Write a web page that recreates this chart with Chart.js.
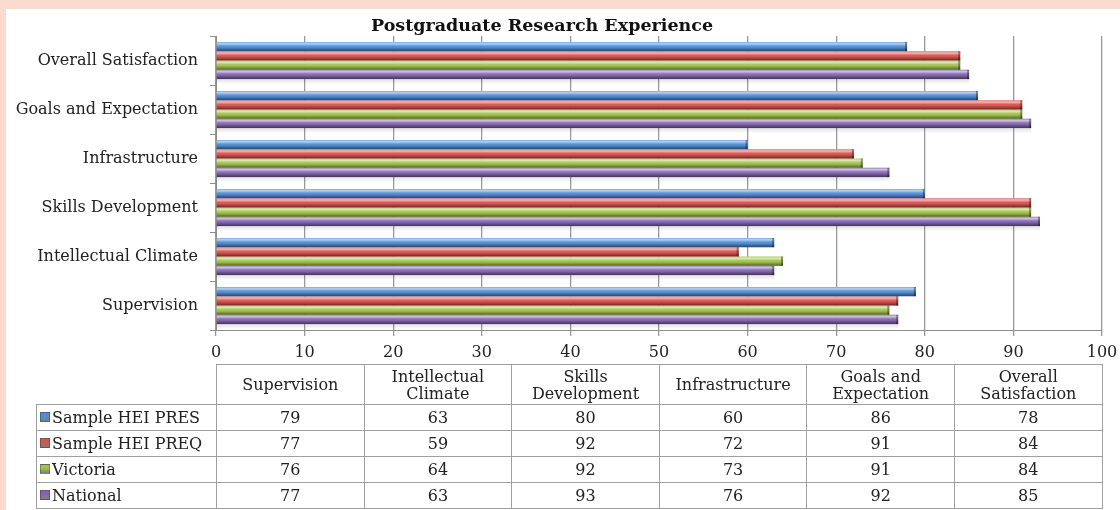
<!DOCTYPE html>
<html>
<head>
<meta charset="utf-8">
<script src="https://cdn.jsdelivr.net/npm/chart.js@4/dist/chart.umd.min.js"></script>
<style>
  html, body { margin: 0; padding: 0; background: #fbdbd0; overflow: hidden; }
  #panel { position: absolute; left: 6px; top: 9px; width: 1114px; height: 501px; background: #fff; overflow: hidden; }
  #pgChart { position: absolute; left: 0; top: 0; }
  #dataTable { position: absolute; left: 30px; top: 355px; border-collapse: collapse; table-layout: fixed;
    font-family: 'DejaVu Serif', serif; font-size: 16px; color: #222; }
  #dataTable th, #dataTable td { border: 1px solid #a0a0a0; text-align: center; font-weight: normal; padding: 0 6px; }
  #dataTable th { height: 39px; line-height: 17px; }
  #dataTable td { height: 25px; line-height: 17px; }
  #dataTable th.blank { border-top: none; border-left: none; }
  #dataTable td.name { text-align: left; padding: 0 0 0 3px; white-space: nowrap; }
  .key { display: inline-block; width: 8px; height: 8px; margin-right: 2px; vertical-align: 1px; border: 1px solid rgba(0,0,0,0.25); }
</style>
</head>
<body>
<div id="panel">
  <canvas id="pgChart" width="1114" height="360"></canvas>
  <table id="dataTable"></table>
</div>
<script>
const chartTitle = 'Postgraduate Research Experience';
const categories = ['Supervision', 'Intellectual Climate', 'Skills Development', 'Infrastructure', 'Goals and Expectation', 'Overall Satisfaction'];
const seriesNames = ['Sample HEI PRES', 'Sample HEI PREQ', 'Victoria', 'National'];
const presValues = [79, 63, 80, 60, 86, 78];
const preqValues = [77, 59, 92, 72, 91, 84];
const victoriaValues = [76, 64, 92, 73, 91, 84];
const nationalValues = [77, 63, 93, 76, 92, 85];
const seriesValues = [presValues, preqValues, victoriaValues, nationalValues];
const seriesColors = ['#4f8ed6', '#d9524e', '#a2c44a', '#8466b0'];
const xMin = 0, xMax = 100, xStep = 10;

const serifFont = "'DejaVu Serif', serif";

// 3D-ish shading drawn on top of each bar
const bevelPlugin = {
  id: 'bevel',
  afterDatasetsDraw(chart) {
    const ctx = chart.ctx;
    chart.data.datasets.forEach((ds, di) => {
      const meta = chart.getDatasetMeta(di);
      meta.data.forEach(bar => {
        const p = bar.getProps(['x', 'y', 'base', 'height'], true);
        const top = p.y - p.height / 2;
        const g = ctx.createLinearGradient(0, top, 0, top + p.height);
        g.addColorStop(0, 'rgba(255,255,255,0.2)');
        g.addColorStop(0.2, 'rgba(255,255,255,0.6)');
        g.addColorStop(0.45, 'rgba(255,255,255,0.05)');
        g.addColorStop(0.7, 'rgba(0,0,0,0.15)');
        g.addColorStop(1, 'rgba(0,0,0,0.5)');
        ctx.save();
        ctx.fillStyle = g;
        ctx.fillRect(p.base, top, p.x - p.base, p.height);
        ctx.fillStyle = 'rgba(0,0,0,0.35)';
        ctx.fillRect(p.x - 2, top, 2, p.height);
        ctx.restore();
        // soft floor shadow under the last bar of each group
        if (di === chart.data.datasets.length - 1) {
          ctx.save();
          const s = ctx.createLinearGradient(0, top + p.height, 0, top + p.height + 5);
          s.addColorStop(0, 'rgba(0,0,0,0.12)');
          s.addColorStop(1, 'rgba(0,0,0,0)');
          ctx.fillStyle = s;
          ctx.fillRect(p.base, top + p.height, p.x - p.base, 5);
          ctx.restore();
        }
      });
    });
  }
};

const titlePlugin = {
  id: 'titleText',
  afterDraw(chart) {
    const ctx = chart.ctx;
    ctx.save();
    ctx.font = "bold 17.5px " + serifFont;
    ctx.fillStyle = '#111';
    ctx.textAlign = 'center';
    ctx.textBaseline = 'middle';
    ctx.fillText(chartTitle, 536, 17);
    ctx.restore();
  }
};

const datasets = seriesNames.map((name, i) => ({
  label: name,
  data: seriesValues[i],
  backgroundColor: seriesColors[i],
  borderWidth: 0,
  categoryPercentage: 0.76,
  barPercentage: 1.0
}));

new Chart(document.getElementById('pgChart').getContext('2d'), {
  type: 'bar',
  data: { labels: categories, datasets: datasets },
  options: {
    indexAxis: 'y',
    responsive: false,
    animation: false,
    devicePixelRatio: 1,
    layout: { padding: { top: 27, right: 18, left: 0, bottom: 0 } },
    plugins: {
      legend: { display: false },
      title: { display: false },
      tooltip: { enabled: false }
    },
    scales: {
      x: {
        min: xMin,
        max: xMax,
        ticks: { stepSize: xStep, color: '#222', font: { family: serifFont, size: 16 }, padding: 7 },
        grid: { color: '#999', lineWidth: 1.3, tickLength: 6 },
        border: { color: '#8c8c8c' },
        afterFit: scale => { scale.height = 39; scale.paddingRight = 0; scale.paddingLeft = 0; }
      },
      y: {
        reverse: true,
        ticks: { color: '#222', font: { family: serifFont, size: 16 }, padding: 12 },
        grid: { drawOnChartArea: false, tickLength: 6, color: '#8c8c8c' },
        border: { color: '#8c8c8c' },
        afterFit: scale => { scale.width = 210; }
      }
    }
  },
  plugins: [bevelPlugin, titlePlugin]
});

// data table under the chart
const table = document.getElementById('dataTable');
let html = '<colgroup><col style="width:180px">' + categories.map(() => '<col style="width:147.6px">').join('') + '</colgroup>';
html += '<tr><th class="blank"></th>' + categories.map(c => `<th>${c}</th>`).join('') + '</tr>';
seriesNames.forEach((name, i) => {
  html += `<tr><td class="name"><span class="key" style="background:linear-gradient(${seriesColors[i]}, ${seriesColors[i]} 40%, rgba(0,0,0,0.5))"></span>${name}</td>`;
  html += seriesValues[i].map(v => `<td>${v}</td>`).join('') + '</tr>';
});
table.innerHTML = html;
</script>
</body>
</html>
